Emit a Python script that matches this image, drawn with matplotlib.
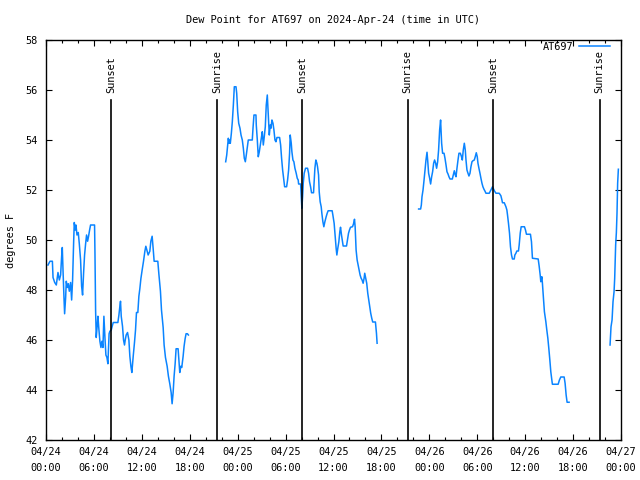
import matplotlib
matplotlib.use('Agg')
import matplotlib.pyplot as plt
import matplotlib.transforms as mtransforms
from matplotlib.ticker import MultipleLocator

# hours since 2024-04-24 00:00 UTC, dew point in degrees F
seg1_hours = [0.25, 0.5, 0.8, 0.88, 1.09, 1.29, 1.5, 1.67, 1.83, 1.96, 2.04, 2.13, 2.25, 2.33,
              2.46, 2.54, 2.67, 2.79, 2.92, 3.08, 3.21, 3.33, 3.46, 3.54, 3.67, 3.75, 3.88, 4.04,
              4.17, 4.33, 4.46, 4.58, 4.71, 4.83, 4.96, 5.08, 5.21, 5.33, 5.46, 5.58, 6.08, 6.13,
              6.21, 6.29, 6.42, 6.5, 6.63, 6.75, 6.88, 7.0, 7.13, 7.25, 7.38, 7.5, 7.63, 7.75, 7.9,
              8.0, 8.17, 8.29, 8.42, 9.0, 9.13, 9.25, 9.33, 9.42, 9.58, 9.71, 9.83, 9.92, 10.04,
              10.21, 10.38, 10.5, 10.63, 10.75, 10.92, 11.08, 11.21, 11.33, 11.5, 11.63, 11.75,
              11.88, 12.04, 12.21, 12.38, 12.5, 12.63, 12.79, 13.0, 13.13, 13.29, 13.42, 13.54,
              14.0, 14.13, 14.33, 14.46, 14.67, 14.79, 14.96, 15.17, 15.33, 15.5, 15.67, 15.79,
              15.92, 16.04, 16.17, 16.29, 16.54, 16.63, 16.75, 16.88, 17.0, 17.17, 17.29, 17.42,
              17.54, 17.71, 17.83]
seg1_dewpt = [49.0, 49.15, 49.15, 48.5, 48.3, 48.2, 48.7, 48.4, 48.6, 49.35, 49.7, 48.8, 47.7, 47.05,
              47.7, 48.35, 48.1, 48.25, 47.95, 48.3, 47.6, 48.4, 49.9, 50.7, 50.4, 50.6, 50.2, 50.3,
              49.85, 49.2, 48.15, 47.8, 48.7, 49.4, 49.85, 50.2, 49.95, 50.15, 50.4, 50.6, 50.6, 49.5,
              47.2, 46.1, 46.6, 46.95, 46.4, 45.95, 45.7, 45.95, 45.7, 46.95, 46.1, 45.4, 45.3, 45.05, 46.25,
              46.35, 46.4, 46.55, 46.7, 46.7, 47.0, 47.35, 47.55, 46.95, 46.55, 46.0, 45.8, 46.0, 46.2,
              46.3, 46.0, 45.35, 44.95, 44.7, 45.35, 45.9, 46.4, 47.1, 47.1, 47.75, 48.05,
              48.45, 48.8, 49.15, 49.55, 49.75, 49.6, 49.4, 49.55, 49.95, 50.15, 49.65, 49.15,
              49.15, 48.65, 47.95, 47.2, 46.5, 45.8, 45.3, 44.95, 44.55, 44.25, 43.9, 43.45,
              43.9, 44.55, 45.05, 45.65, 45.65, 45.25, 44.7, 44.95, 44.9, 45.35, 45.75, 46.05,
              46.25, 46.25, 46.2]

seg2_hours = [22.5, 22.63, 22.75, 22.83, 22.92, 23.0, 23.08, 23.21, 23.33, 23.46, 23.58, 23.79, 23.88,
              24.0, 24.13, 24.29, 24.42, 24.58, 24.71, 24.83, 24.96, 25.08, 25.21, 25.33, 25.83, 25.92,
              26.04, 26.29, 26.33, 26.46, 26.58, 26.71, 26.83, 26.96, 27.08, 27.21, 27.33, 27.46, 27.58,
              27.71, 27.83, 27.96, 28.08, 28.17, 28.29, 28.42, 28.54, 28.67, 28.79, 28.92, 29.25, 29.38,
              29.5, 29.63, 29.75, 29.88, 30.13, 30.25, 30.38, 30.5, 30.58, 30.71, 30.79, 30.92, 31.04,
              31.17, 31.33, 31.46, 31.58, 31.63, 31.88, 31.96, 32.04, 32.13, 32.21, 32.33, 32.5, 32.75,
              32.88, 33.0, 33.13, 33.25, 33.5, 33.58, 33.67, 33.79, 33.92, 34.0, 34.13, 34.21, 34.33,
              34.46, 34.54, 34.67, 34.79, 34.92, 35.08, 35.21, 35.33, 35.83, 35.92, 36.08, 36.21, 36.33,
              36.42, 36.54, 36.67, 36.79, 36.88, 37.0, 37.13, 37.21, 37.63, 37.75, 37.88, 38.0, 38.13,
              38.38, 38.5, 38.63, 38.71, 38.83, 38.96, 39.08, 39.21, 39.33, 39.46, 39.58, 39.71, 39.83,
              39.91, 40.04, 40.16, 40.29, 40.41, 40.54, 40.66, 40.79, 40.91, 41.25, 41.38, 41.46]
seg2_dewpt = [53.13, 53.4, 53.8, 54.07, 53.87, 54.0, 53.87, 54.27, 54.73, 55.4, 56.13, 56.13, 55.87,
              55.13, 54.67, 54.47, 54.2, 54.0, 53.67, 53.27, 53.13, 53.4, 53.73, 54.0, 54.0, 54.47,
              55.0, 55.0, 54.6, 54.0, 53.33, 53.53, 53.8, 54.07, 54.33, 53.8, 54.13, 54.53, 55.4,
              55.8, 55.07, 54.2, 54.6, 54.47, 54.8, 54.67, 54.4, 54.0, 53.93, 54.1, 54.1, 53.8,
              53.27, 52.8, 52.47, 52.13, 52.13, 52.4, 52.8, 53.47, 54.2, 53.87, 53.53, 53.2, 53.13,
              52.87, 52.67, 52.47, 52.4, 52.24, 52.24, 51.73, 51.27, 51.73, 52.27, 52.67, 52.87, 52.87,
              52.67, 52.33, 52.13, 51.89, 51.89, 52.33, 52.87, 53.2, 53.07, 52.93, 52.6, 51.93, 51.53,
              51.33, 51.07, 50.73, 50.53, 50.73, 50.93, 51.07, 51.17, 51.17, 51.0, 50.67, 50.13, 49.67,
              49.4, 49.67, 49.93, 50.33, 50.51, 50.2, 49.93, 49.76, 49.76, 50.0, 50.27, 50.4, 50.51,
              50.53, 50.64, 50.83, 50.53, 49.6, 49.2, 49.0, 48.8, 48.6, 48.47, 48.4, 48.27, 48.47,
              48.67, 48.47, 48.27, 47.87, 47.6, 47.33, 47.07, 46.87, 46.72, 46.72, 46.27, 45.87]

seg3_hours = [46.66, 46.91, 47.0, 47.08, 47.21, 47.33, 47.46, 47.58, 47.71, 47.79, 47.91, 48.04, 48.16,
              48.29, 48.41, 48.54, 48.66, 48.79, 48.91, 49.04, 49.16, 49.29, 49.41, 49.54, 49.66, 49.84,
              49.96, 50.09, 50.21, 50.34, 50.46, 50.59, 50.88, 51.0, 51.13, 51.25, 51.34, 51.46, 51.59,
              51.71, 51.88, 52.0, 52.13, 52.25, 52.38, 52.5, 52.59, 52.71, 52.84, 52.96, 53.09, 53.21,
              53.34, 53.46, 53.63, 53.75, 53.88, 54.0, 54.09, 54.21, 54.34, 54.46, 54.59, 54.71, 54.84,
              54.96, 55.09, 55.5, 55.71, 55.91, 56.04, 56.16, 56.34, 56.75, 56.96, 57.09, 57.16, 57.38,
              57.5, 57.59, 57.71, 57.79, 57.91, 58.04, 58.16, 58.29, 58.41, 58.63, 58.71, 58.84, 58.96,
              59.16, 59.25, 59.38, 59.5, 59.91, 60.04, 60.16, 60.66, 60.79, 60.91, 61.63, 61.75, 61.88,
              61.96, 62.09, 62.16, 62.29, 62.41, 62.59, 62.71, 62.84, 62.96, 63.09, 63.21, 63.34, 63.41,
              64.13, 64.29, 64.46, 64.88, 65.0, 65.13, 65.25, 65.5]
seg3_dewpt = [51.24, 51.24, 51.4, 51.73, 52.0, 52.37, 52.8, 53.2, 53.51, 53.2, 52.67, 52.47, 52.24,
              52.53, 52.73, 53.07, 53.2, 53.07, 52.87, 53.13, 53.6, 54.4, 54.8, 53.87, 53.47, 53.47,
              53.27, 53.0, 52.73, 52.64, 52.53, 52.44, 52.44, 52.6, 52.77, 52.6, 52.53, 52.87, 53.2,
              53.47, 53.47, 53.36, 53.2, 53.6, 53.87, 53.6, 53.2, 52.8, 52.67, 52.56, 52.67, 52.93,
              53.13, 53.17, 53.2, 53.33, 53.49, 53.33, 53.07, 52.87, 52.67, 52.47, 52.27, 52.13, 52.03,
              51.96, 51.87, 51.87, 52.0, 52.13, 52.04, 51.96, 51.87, 51.87, 51.77, 51.6, 51.49, 51.49,
              51.4, 51.33, 51.2, 51.0, 50.67, 50.27, 49.73, 49.4, 49.24, 49.24, 49.4, 49.47, 49.56,
              49.56, 49.8, 50.27, 50.53, 50.53, 50.4, 50.23, 50.23, 49.93, 49.27, 49.24, 48.96, 48.6,
              48.33, 48.53, 48.27, 47.67, 47.13, 46.73, 46.4, 46.07, 45.67, 45.2, 44.73, 44.4, 44.23,
              44.23, 44.4, 44.52, 44.52, 44.27, 43.8, 43.51, 43.51]

seg4_hours = [70.63, 70.75, 70.88, 71.0, 71.13, 71.21, 71.33, 71.42, 71.5, 71.58, 71.67]
seg4_dewpt = [45.8, 46.53, 46.8, 47.53, 47.93, 48.47, 49.8, 50.3, 51.07, 52.27, 52.83]

sunset_hours = [8.13, 32.05, 56.0]
sunrise_hours = [21.42, 45.29, 69.33]

xtick_hours = [0, 6, 12, 18, 24, 30, 36, 42, 48, 54, 60, 66, 72]
xtick_labels = ['04/24\n00:00', '04/24\n06:00', '04/24\n12:00', '04/24\n18:00',
                '04/25\n00:00', '04/25\n06:00', '04/25\n12:00', '04/25\n18:00',
                '04/26\n00:00', '04/26\n06:00', '04/26\n12:00', '04/26\n18:00',
                '04/27\n00:00']
ytick_values = [42, 44, 46, 48, 50, 52, 54, 56, 58]

FONT = 'DejaVu Sans Mono'
FS = 7.4
plt.rcParams['font.family'] = FONT
plt.rcParams['font.size'] = FS

line_color = '#0a84ff'

fig = plt.figure(figsize=(6.4, 4.8), dpi=100)
ax = fig.add_axes([46 / 640, 40 / 480, 575 / 640, 400 / 480])

segments = [(seg1_hours, seg1_dewpt), (seg2_hours, seg2_dewpt),
            (seg3_hours, seg3_dewpt), (seg4_hours, seg4_dewpt)]
for i, (h, d) in enumerate(segments):
    ax.plot(h, d, color=line_color, lw=1.1, label='AT697' if i == 0 else None)

ax.set_xlim(0, 72)
ax.set_ylim(42, 58)

trans = mtransforms.blended_transform_factory(ax.transData, ax.transAxes)
for h in sunset_hours:
    ax.plot([h, h], [0, 0.85], color='black', lw=1.2, transform=trans, clip_on=False)
    ax.text(h, 0.868, 'Sunset', rotation=90, ha='center', va='bottom', transform=trans, fontsize=FS)
for h in sunrise_hours:
    ax.plot([h, h], [0, 0.85], color='black', lw=1.2, transform=trans, clip_on=False)
    ax.text(h, 0.868, 'Sunrise', rotation=90, ha='center', va='bottom', transform=trans, fontsize=FS)

ax.set_xticks(xtick_hours)
ax.set_xticklabels(xtick_labels, linespacing=1.7)
ax.xaxis.set_minor_locator(MultipleLocator(2))
ax.set_yticks(ytick_values)
ax.tick_params(axis='both', which='major', direction='in', length=4, width=0.8,
               top=True, right=True, labelsize=FS, colors='black')
ax.tick_params(axis='x', which='major', pad=5)
ax.tick_params(axis='y', which='major', pad=6)
ax.tick_params(axis='x', which='minor', direction='in', length=2, width=0.8, top=True)
for s in ax.spines.values():
    s.set_linewidth(1.0)
    s.set_color('black')

leg = ax.legend(loc='center right', bbox_to_anchor=(0.981, 0.9825), frameon=False,
                markerfirst=False, handlelength=3.0, handletextpad=0.6,
                borderpad=0, borderaxespad=0, fontsize=FS)

fig.text(333 / 640, 1 - 20 / 480, 'Dew Point for AT697 on 2024-Apr-24 (time in UTC)',
         ha='center', va='center', fontsize=FS)
fig.text(11 / 640, 0.5, 'degrees F', rotation=90, ha='center', va='center', fontsize=FS)

fig.savefig('out.png', dpi=100)
